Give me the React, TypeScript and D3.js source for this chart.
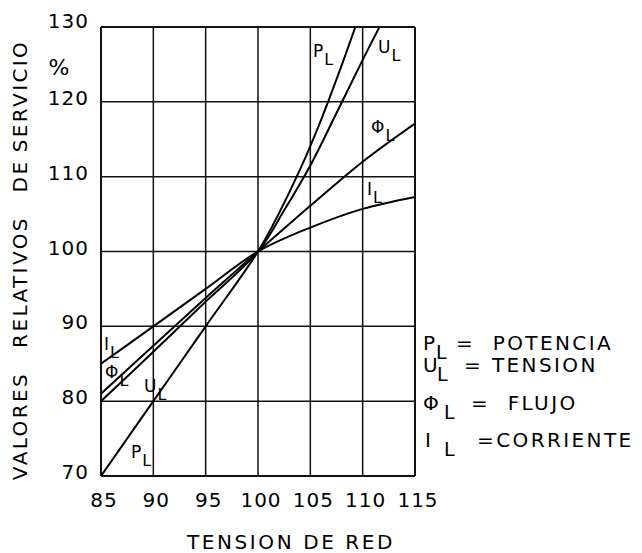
import * as d3 from "d3";
import { useEffect, useRef } from "react";

// tension de red (%) and relative values (%)
const xTicks = [85, 90, 95, 100, 105, 110, 115];
const yTicks = [70, 80, 90, 100, 110, 120, 130];

const pL = [[85, 70], [90, 80], [95, 90], [100, 100], [102, 105.1], [104, 110.9], [106, 117.5], [108, 124.9], [109.3, 130]];
const uL = [[85, 80], [90, 86.6], [95, 93.3], [100, 100], [102.5, 105.5], [105, 111.5], [107.5, 118.5], [110, 125.6], [111.6, 130]];
const phiL = [[85, 81], [90, 87.4], [95, 93.8], [100, 100], [105, 106.1], [110, 112], [115, 117.1]];
const iL = [[85, 85], [90, 90], [95, 95], [100, 100], [105, 103.2], [110, 105.7], [115, 107.3]];

const legend = [
  { sym: "P", name: "=  POTENCIA", x: 423, y: 350, sx: 436, nx: 456 },
  { sym: "U", name: "= TENSION", x: 423, y: 372, sx: 437, nx: 464 },
  { sym: "Φ", name: "=  FLUJO", x: 423, y: 410, sx: 444, nx: 471 },
  { sym: "I", name: "=CORRIENTE", x: 425, y: 447, sx: 444, nx: 477 },
];

// curve labels [symbol, x, y]
const curveLabels = [
  ["P", 313, 57],
  ["U", 378, 53],
  ["Φ", 371, 133],
  ["I", 367, 195],
  ["I", 104, 350],
  ["Φ", 105, 378],
  ["U", 144, 392],
  ["P", 131, 458],
];

const font = "'DejaVu Sans', sans-serif";

function App() {
  const ref = useRef(null);

  useEffect(() => {
    const svg = d3.select(ref.current);
    svg.selectAll("*").remove();

    const x = d3.scaleLinear().domain([85, 115]).range([101, 415]);
    const y = d3.scaleLinear().domain([70, 130]).range([476, 27]);

    const g = svg.append("g");

    // grid
    g.selectAll(".vx")
      .data(xTicks)
      .join("line")
      .attr("x1", (d) => x(d))
      .attr("x2", (d) => x(d))
      .attr("y1", y(70))
      .attr("y2", y(130))
      .attr("stroke", "#111")
      .attr("stroke-width", (d, i) => (i === 0 || i === xTicks.length - 1 ? 2 : 1.5));
    g.selectAll(".hy")
      .data(yTicks)
      .join("line")
      .attr("x1", x(85))
      .attr("x2", x(115))
      .attr("y1", (d) => y(d))
      .attr("y2", (d) => y(d))
      .attr("stroke", "#111")
      .attr("stroke-width", (d, i) => (i === 0 || i === yTicks.length - 1 ? 2 : 1.5));

    // tick labels
    g.selectAll(".xl")
      .data(xTicks)
      .join("text")
      .attr("x", (d) => x(d) + 3)
      .attr("y", 507)
      .attr("text-anchor", "middle")
      .attr("font-family", font)
      .attr("font-size", 20)
      .attr("letter-spacing", 1)
      .text((d) => d);
    g.selectAll(".yl")
      .data(yTicks)
      .join("text")
      .attr("x", 89)
      .attr("y", (d) => y(d) + (d === 130 ? 1 : 3))
      .attr("text-anchor", "end")
      .attr("font-family", font)
      .attr("font-size", 20)
      .attr("letter-spacing", 1)
      .text((d) => d);

    g.append("text")
      .attr("x", 59)
      .attr("y", 75)
      .attr("text-anchor", "middle")
      .attr("font-family", font)
      .attr("font-size", 22)
      .text("%");

    // axis titles
    g.append("text")
      .attr("x", 291)
      .attr("y", 549)
      .attr("text-anchor", "middle")
      .attr("font-family", font)
      .attr("font-size", 20)
      .attr("letter-spacing", 2.6)
      .text("TENSION DE RED");

    const yTitle = [["VALORES", 426], ["RELATIVOS", 282], ["DE", 176], ["SERVICIO", 96]];
    yTitle.forEach(([w, cy]) => {
      g.append("text")
        .attr("transform", `translate(27,${cy}) rotate(-90)`)
        .attr("text-anchor", "middle")
        .attr("font-family", font)
        .attr("font-size", 20)
        .attr("letter-spacing", 2.4)
        .text(w);
    });

    // curves
    svg.append("clipPath")
      .attr("id", "plot")
      .append("rect")
      .attr("x", x(85))
      .attr("y", y(130))
      .attr("width", x(115) - x(85))
      .attr("height", y(70) - y(130));

    const line = d3
      .line()
      .x((d) => x(d[0]))
      .y((d) => y(d[1]))
      .curve(d3.curveCatmullRom.alpha(0.5));

    g.selectAll(".curve")
      .data([pL, uL, phiL, iL])
      .join("path")
      .attr("d", (d) => line(d))
      .attr("fill", "none")
      .attr("stroke", "#000")
      .attr("stroke-width", 2)
      .attr("clip-path", "url(#plot)");

    // curve labels with subscript L
    curveLabels.forEach(([s, lx, ly]) => {
      const t = g.append("text")
        .attr("x", lx)
        .attr("y", ly)
        .attr("font-family", font)
        .attr("font-size", 17);
      t.append("tspan").text(s);
      t.append("tspan").attr("dx", 1).attr("dy", 8).attr("font-size", 16).text("L");
    });

    // legend
    legend.forEach((d) => {
      g.append("text")
        .attr("x", d.x)
        .attr("y", d.y)
        .attr("font-family", font)
        .attr("font-size", 20)
        .text(d.sym);
      g.append("text")
        .attr("x", d.sx)
        .attr("y", d.y + 9)
        .attr("font-family", font)
        .attr("font-size", 19)
        .text("L");
      g.append("text")
        .attr("x", d.nx)
        .attr("y", d.y)
        .attr("font-family", font)
        .attr("font-size", 20)
        .attr("letter-spacing", 2.4)
        .style("white-space", "pre")
        .text(d.name);
    });
  }, []);

  return (
    <svg
      ref={ref}
      width={642}
      height={553}
      style={{ position: "absolute", left: 0, top: 0, display: "block", background: "#fff" }}
    />
  );
}

export default App;
